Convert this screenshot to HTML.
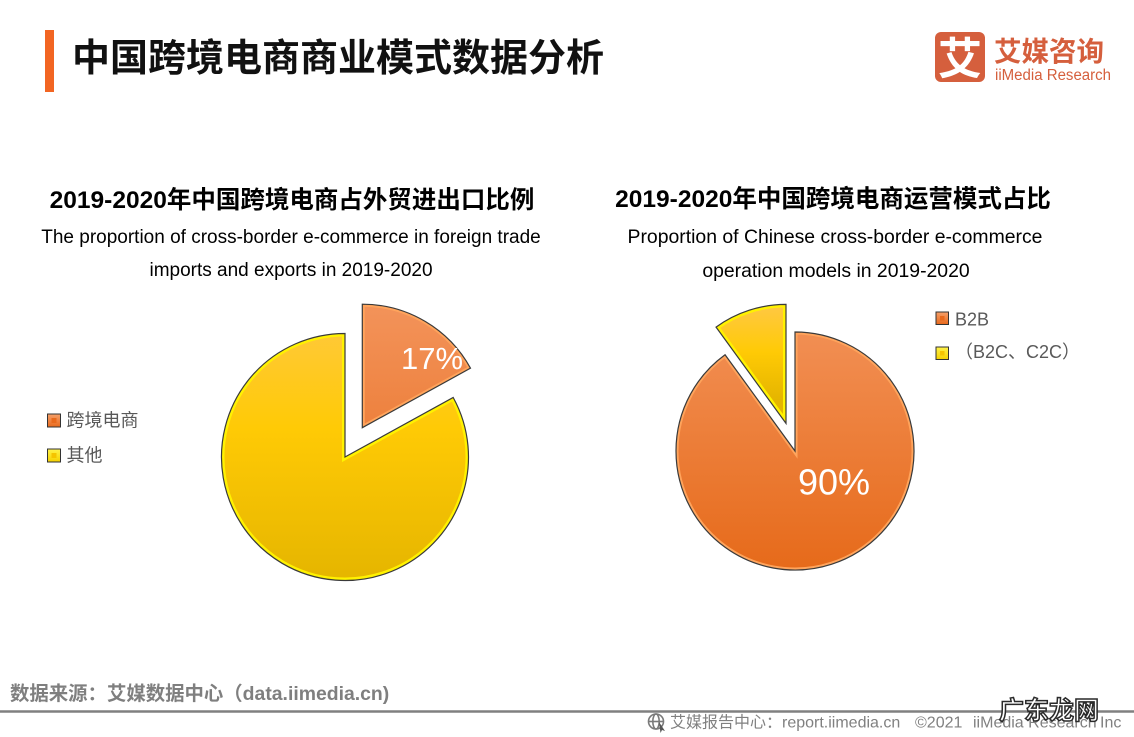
<!DOCTYPE html>
<html>
<head>
<meta charset="utf-8">
<style>
html,body{margin:0;padding:0;background:#fff;}
body{width:1134px;height:737px;overflow:hidden;}
svg{display:block;}
text{font-family:"Liberation Sans","Noto Sans CJK SC",sans-serif;}
</style>
</head>
<body>
<svg width="1134" height="737" viewBox="0 0 1134 737" xmlns="http://www.w3.org/2000/svg">
<defs>
  <linearGradient id="orL" gradientUnits="userSpaceOnUse" x1="0" y1="304" x2="0" y2="581">
    <stop offset="0" stop-color="#F3935A"/>
    <stop offset="1" stop-color="#E66A1A"/>
  </linearGradient>
  <linearGradient id="yeL" gradientUnits="userSpaceOnUse" x1="0" y1="304" x2="0" y2="581">
    <stop offset="0" stop-color="#FFC845"/>
    <stop offset="0.45" stop-color="#FFCA05"/>
    <stop offset="1" stop-color="#E5B500"/>
  </linearGradient>
  <linearGradient id="orR" gradientUnits="userSpaceOnUse" x1="0" y1="304" x2="0" y2="570">
    <stop offset="0" stop-color="#F3935A"/>
    <stop offset="1" stop-color="#E66A1A"/>
  </linearGradient>
  <linearGradient id="yeR" gradientUnits="userSpaceOnUse" x1="0" y1="304" x2="0" y2="400">
    <stop offset="0" stop-color="#FFC845"/>
    <stop offset="0.5" stop-color="#FFCA05"/>
    <stop offset="1" stop-color="#E5B500"/>
  </linearGradient>
  <linearGradient id="legO" x1="0" y1="0" x2="0" y2="1">
    <stop offset="0" stop-color="#F6A06A"/>
    <stop offset="1" stop-color="#E8691C"/>
  </linearGradient>
  <linearGradient id="legY" x1="0" y1="0" x2="0" y2="1">
    <stop offset="0" stop-color="#FFF34A"/>
    <stop offset="1" stop-color="#F5D000"/>
  </linearGradient>
  <clipPath id="cLm"><path id="pLm" d="M345,457 L453.2,397.5 A123.5,123.5 0 1,1 345,333.5 Z"/></clipPath>
  <clipPath id="cLs"><path id="pLs" d="M362.3,427.7 L362.3,304.2 A123.5,123.5 0 0,1 470.5,368.2 Z"/></clipPath>
  <clipPath id="cRm"><path id="pRm" d="M795,451 L795,332 A119,119 0 1,1 725.05,354.73 Z"/></clipPath>
  <clipPath id="cRs"><path id="pRs" d="M786,423.4 L716.05,327.13 A119,119 0 0,1 786,304.4 Z"/></clipPath>
</defs>

<!-- Header -->
<rect x="45" y="30" width="9" height="62" fill="#F26522"/>
<text x="72" y="71" font-size="38" font-weight="bold" fill="#111">中国跨境电商商业模式数据分析</text>

<!-- Logo -->
<rect x="935" y="32" width="50" height="50" rx="6" fill="#D55F3D"/>
<text x="960" y="74" font-size="44" font-weight="bold" fill="#fff" text-anchor="middle">艾</text>
<text x="994" y="61" font-size="27.5" font-weight="bold" fill="#D55F3D">艾媒咨询</text>
<text x="995" y="80" font-size="15.5" fill="#D55F3D" textLength="116" lengthAdjust="spacingAndGlyphs">iiMedia Research</text>

<!-- Left titles -->
<text x="292" y="208" font-size="24.5" font-weight="bold" fill="#000" text-anchor="middle">2019-2020年中国跨境电商占外贸进出口比例</text>
<text x="291" y="243" font-size="19" fill="#000" text-anchor="middle">The proportion of cross-border e-commerce in foreign trade</text>
<text x="291" y="276" font-size="19" fill="#000" text-anchor="middle">imports and exports in 2019-2020</text>

<!-- Right titles -->
<text x="833" y="207" font-size="24.5" font-weight="bold" fill="#000" text-anchor="middle">2019-2020年中国跨境电商运营模式占比</text>
<text x="835" y="243" font-size="19.4" fill="#000" text-anchor="middle">Proportion of Chinese cross-border e-commerce</text>
<text x="836" y="277" font-size="19.4" fill="#000" text-anchor="middle">operation models in 2019-2020</text>

<!-- Left pie -->
<g clip-path="url(#cLm)">
  <use href="#pLm" fill="url(#yeL)" stroke="#FFF200" stroke-width="6"/>
</g>
<use href="#pLm" fill="none" stroke="#3a3a3a" stroke-width="1.2"/>
<g clip-path="url(#cLs)">
  <use href="#pLs" fill="url(#orL)" stroke="#FFA45C" stroke-width="5"/>
</g>
<use href="#pLs" fill="none" stroke="#3a3a3a" stroke-width="1.2"/>
<text x="401" y="369" font-size="31" fill="#fff">17%</text>

<!-- Left legend -->
<rect x="47.5" y="414" width="13" height="13" fill="url(#legO)" stroke="#333" stroke-width="1"/>
<rect x="51.5" y="418" width="5" height="5" fill="#E8691C"/>
<text x="66.5" y="426.5" font-size="18" fill="#595959">跨境电商</text>
<rect x="47.5" y="449" width="13" height="13" fill="url(#legY)" stroke="#333" stroke-width="1"/>
<rect x="51.5" y="453" width="5" height="5" fill="#F5C400"/>
<text x="66.5" y="461.5" font-size="18" fill="#595959">其他</text>

<!-- Right pie -->
<g clip-path="url(#cRm)">
  <use href="#pRm" fill="url(#orR)" stroke="#FFA45C" stroke-width="5"/>
</g>
<use href="#pRm" fill="none" stroke="#3a3a3a" stroke-width="1.2"/>
<g clip-path="url(#cRs)">
  <use href="#pRs" fill="url(#yeR)" stroke="#FFF200" stroke-width="6"/>
</g>
<use href="#pRs" fill="none" stroke="#3a3a3a" stroke-width="1.2"/>
<text x="798" y="494.5" font-size="36" fill="#fff">90%</text>

<!-- Right legend -->
<rect x="936" y="312" width="12.5" height="12.5" fill="url(#legO)" stroke="#333" stroke-width="1"/>
<rect x="940" y="316" width="4.5" height="4.5" fill="#E8691C"/>
<text x="955" y="325.5" font-size="18" fill="#595959">B2B</text>
<rect x="936" y="347" width="12.5" height="12.5" fill="url(#legY)" stroke="#333" stroke-width="1"/>
<rect x="940" y="351" width="4.5" height="4.5" fill="#F5C400"/>
<text x="955" y="358" font-size="18" fill="#595959">（B2C、C2C）</text>

<!-- Footer -->
<text x="10" y="700" font-size="19.4" font-weight="bold" fill="#7F7F7F">数据来源：艾媒数据中心（data.iimedia.cn)</text>
<line x1="0" y1="711.5" x2="1134" y2="711.5" stroke="#808080" stroke-width="2.5"/>

<g fill="none" stroke="#7a7a7a" stroke-width="1.6">
  <circle cx="656" cy="721.5" r="7.5"/>
  <line x1="648.5" y1="721.5" x2="663.5" y2="721.5"/>
  <ellipse cx="656" cy="721.5" rx="3.2" ry="7.5"/>
</g>
<path d="M659,722 L665,731 L662,730 L660.5,733 Z" fill="#555"/>
<text x="670" y="727.5" font-size="16" fill="#808080">艾媒报告中心：report.iimedia.cn</text>
<text x="915" y="727.5" font-size="16" fill="#808080">©2021</text>
<text x="973" y="727.5" font-size="16" fill="#808080">iiMedia Research</text>
<text x="1100" y="727.5" font-size="16" fill="#808080">Inc</text>

<!-- Watermark -->
<text x="999" y="719" font-size="25" font-weight="bold" fill="#fff" stroke="#2a2a2a" stroke-width="1.5">广东龙网</text>
</svg>
</body>
</html>
